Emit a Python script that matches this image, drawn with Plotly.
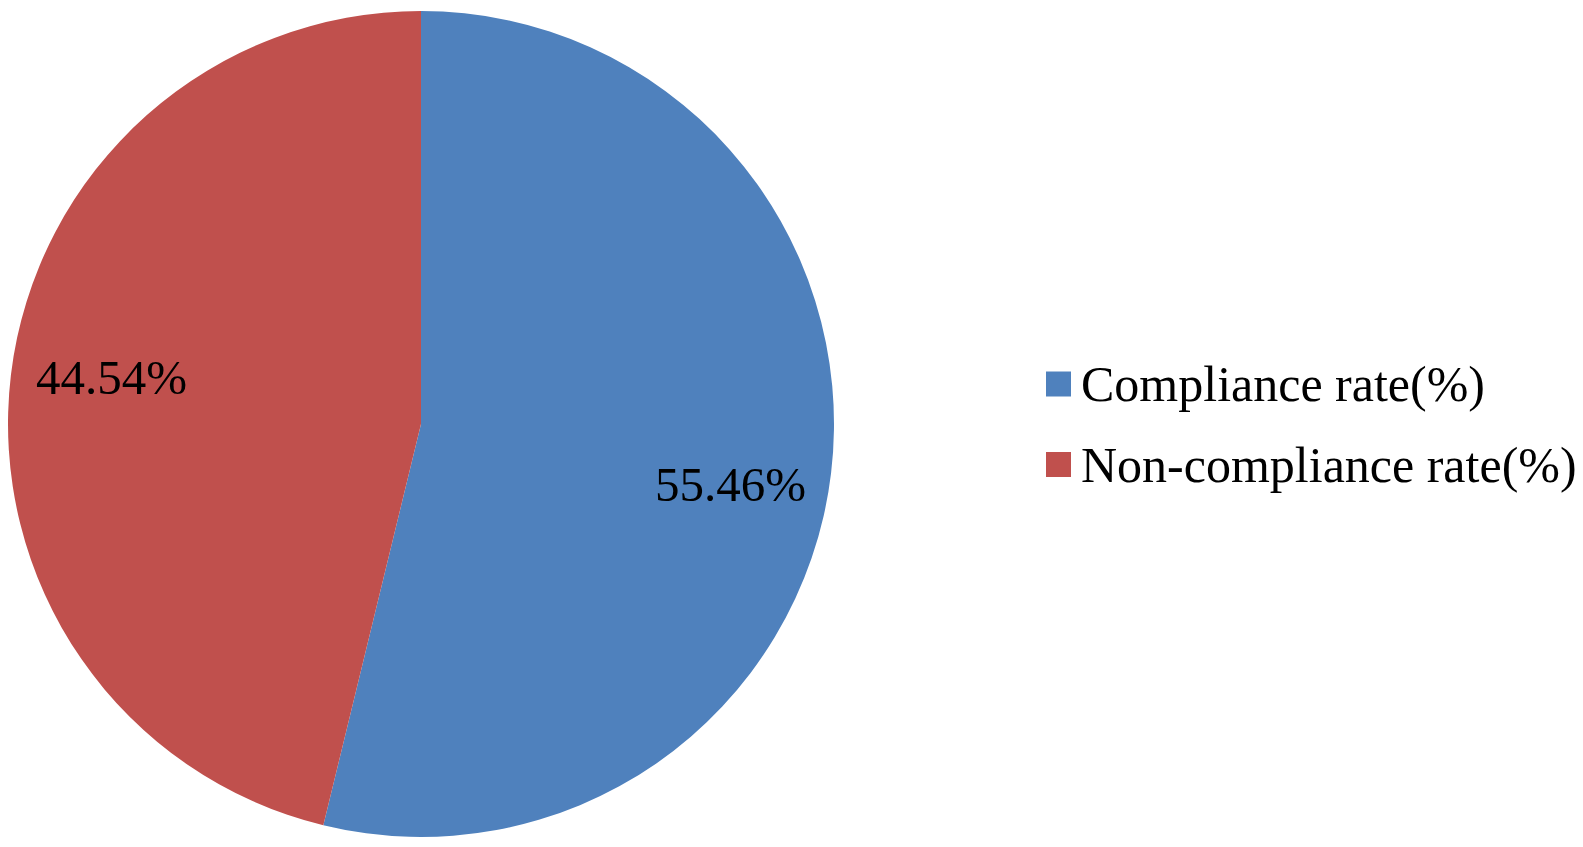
import math
import plotly.graph_objects as go

""" Data """
labels = ["Compliance rate(%)", "Non-compliance rate(%)"]
label_values = [55.46, 44.54]   # percentages printed on the chart
slice_values = [53.8, 46.2]     # slice shares as drawn in the picture
colors = ["#4F81BD", "#C0504D"]

""" Layout constants (pixels of the 1583x847 page, minus the 8px body margin) """
W, H = 1583, 847
OFF = 8
cx, cy, r = 421 - OFF, 424 - OFF, 413  # pie centre (from top) and radius
font = "Liberation Serif, Times New Roman, serif"

fig = go.Figure(
    go.Pie(
        labels=labels,
        values=slice_values,
        marker=dict(colors=colors, line=dict(width=0)),
        sort=False,
        direction="clockwise",
        rotation=0,
        textinfo="none",
        hoverinfo="label",
        showlegend=False,
        domain=dict(
            x=[max(0, (cx - r) / W), (cx + r) / W],
            y=[max(0, (H - cy - r) / H), min(1, (H - cy + r) / H)],
        ),
    )
)

# data labels at the middle angle of each percentage, ~3/4 of the radius out
total = sum(label_values)
start = 0.0
for v in label_values:
    mid = (start + v / 2) / total * 2 * math.pi
    start += v
    rl = 0.76 * r
    fig.add_annotation(
        x=(cx + rl * math.sin(mid)) / W,
        y=1 - (cy - rl * math.cos(mid) + 7) / H,
        xref="paper", yref="paper",
        xanchor="center", yanchor="middle",
        text=f"{v:.2f}%",
        showarrow=False,
        font=dict(family=font, size=49, color="black"),
    )

# legend drawn by hand so the square and spacing match
for i, (lab, col) in enumerate(zip(labels, colors)):
    yc = 384 - OFF + i * 80.5
    fig.add_shape(
        type="rect", xref="paper", yref="paper",
        x0=(1046 - OFF) / W, x1=(1071 - OFF) / W,
        y0=1 - (yc + 12.5) / H, y1=1 - (yc - 12.5) / H,
        fillcolor=col, line=dict(width=0),
    )
    fig.add_annotation(
        x=(1079 - OFF) / W, y=1 - yc / H, xref="paper", yref="paper",
        xanchor="left", yanchor="middle",
        text=lab, showarrow=False,
        font=dict(family=font, size=50, color="black"),
    )

fig.update_layout(
    width=W, height=H,
    margin=dict(l=0, r=0, t=0, b=0),
    paper_bgcolor="white",
    plot_bgcolor="white",
)

fig.write_html("out.html")
